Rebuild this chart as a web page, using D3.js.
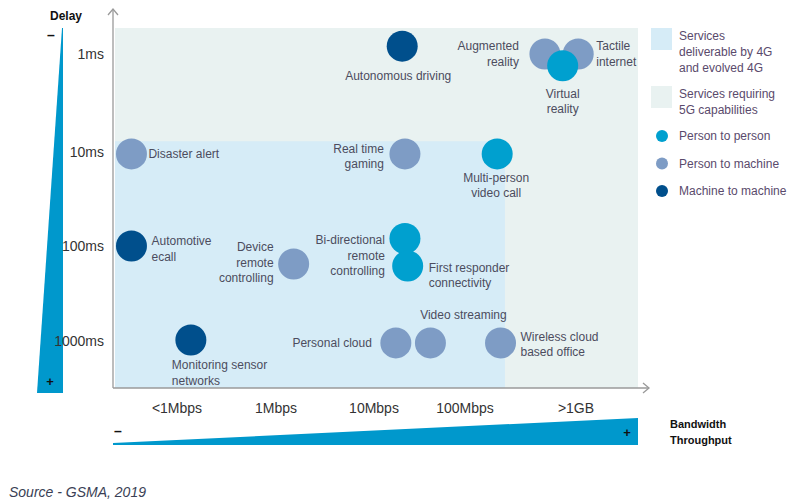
<!DOCTYPE html>
<html>
<head>
<meta charset="utf-8">
<script src="https://cdn.jsdelivr.net/npm/d3@7"></script>
<style>
  body { margin: 0; background: #fff; }
  text { font-family: "Liberation Sans", Arial, sans-serif; }
</style>
</head>
<body>
<svg id="chart"></svg>
<script>
// tick labels
const xTicks = ["<1Mbps", "1Mbps", "10Mbps", "100Mbps", ">1GB"];
const yTicks = ["1ms", "10ms", "100ms", "1000ms"];

// services: bandwidth / delay in tick units (0 = first tick)
const names = ["Disaster alert", "Automotive ecall", "Monitoring sensor networks",
  "Device remote controlling", "Personal cloud", "Video streaming", "Wireless cloud based office",
  "Real time gaming", "Bi-directional remote controlling", "First responder connectivity",
  "Multi-person video call", "Autonomous driving", "Augmented reality", "Tactile internet",
  "Virtual reality"];
const bandwidth = [-0.46, -0.46, 0.14, 1.18, 2.24, 2.62, 3.32, 2.34, 2.34, 2.37, 3.29, 2.31, 3.72, 4.02, 3.88];
const delay = [1.02, 2.0, 2.99, 2.19, 3.02, 3.02, 3.02, 1.02, 1.92, 2.21, 1.02, -0.08, 0.0, 0.0, 0.12];
const type = ["ptm", "mtm", "mtm", "ptm", "ptm", "ptm", "ptm", "ptm", "ptp", "ptp", "ptp", "mtm", "ptm", "ptm", "ptp"];

// region of 4G services (tick units): up to x, from y
const region4G = {x: 3.36, y: 0.89};

const legendNames = ["Person to person", "Person to machine", "Machine to machine"];
const legendKeys = ["ptp", "ptm", "mtm"];

const colors = {ptp: "#00a0cf", ptm: "#7e9cc5", mtm: "#004f8c"};
const textColor = "#4c4c5e";

// label layout: anchor, dx, dy of first line, split lines
const labelLayout = {
  "Disaster alert": ["start", 17, 4, ["Disaster alert"]],
  "Automotive ecall": ["start", 20, -1, ["Automotive", "ecall"]],
  "Monitoring sensor networks": ["start", -19, 29, ["Monitoring sensor", "networks"]],
  "Device remote controlling": ["end", -20, -13, ["Device", "remote", "controlling"]],
  "Personal cloud": ["end", -24, 4, ["Personal cloud"]],
  "Video streaming": ["middle", 33, -24, ["Video streaming"]],
  "Wireless cloud based office": ["start", 20, -2, ["Wireless cloud", "based office"]],
  "Real time gaming": ["end", -21, -1, ["Real time", "gaming"]],
  "Bi-directional remote controlling": ["end", -20, 6, ["Bi-directional", "remote", "controlling"]],
  "First responder connectivity": ["start", 21, 6, ["First responder", "connectivity"]],
  "Multi-person video call": ["middle", -1, 28, ["Multi-person", "video call"]],
  "Autonomous driving": ["middle", -4, 34, ["Autonomous driving"]],
  "Augmented reality": ["end", -26, -4, ["Augmented", "reality"]],
  "Tactile internet": ["start", 18, -4, ["Tactile", "internet"]],
  "Virtual reality": ["middle", 0, 32, ["Virtual", "reality"]]
};

const svgWidth = 800, svgHeight = 503;
const plot = {left: 115, right: 638, top: 28, bottom: 388};

const svg = d3.select("#chart").attr("width", svgWidth).attr("height", svgHeight);

// piecewise scales so ticks sit where the source put them
const xScale = d3.scaleLinear().domain([0, 1, 2, 3, 4]).range([177, 276, 374, 465, 576]);
const yScale = d3.scaleLinear().domain([0, 1, 2, 3]).range([54, 152, 246, 341]);

// background regions
svg.append("rect")
  .attr("x", plot.left).attr("y", plot.top)
  .attr("width", plot.right - plot.left).attr("height", plot.bottom - plot.top)
  .attr("fill", "#e9f2f1");
svg.append("rect")
  .attr("x", plot.left).attr("y", yScale(region4G.y))
  .attr("width", xScale(region4G.x) - plot.left).attr("height", plot.bottom - yScale(region4G.y))
  .attr("fill", "#d6ecf7");

// axis lines with arrows
const axisColor = "#9a9a9a";
svg.append("line").attr("x1", 113).attr("y1", plot.bottom).attr("x2", 113).attr("y2", 9)
  .attr("stroke", axisColor).attr("stroke-width", 1.3);
svg.append("path").attr("d", "M108,15 L113,9 L118,15").attr("fill", "none")
  .attr("stroke", axisColor).attr("stroke-width", 1.3);
svg.append("line").attr("x1", 113).attr("y1", plot.bottom).attr("x2", 649).attr("y2", plot.bottom)
  .attr("stroke", axisColor).attr("stroke-width", 1.3);
svg.append("path").attr("d", "M643,383 L649,388 L643,393").attr("fill", "none")
  .attr("stroke", axisColor).attr("stroke-width", 1.3);

// wedges
const wedgeBlue = "#0098cc";
svg.append("path").attr("d", "M62,28 L63,28 L63,393 L37,393 Z").attr("fill", wedgeBlue);
svg.append("path").attr("d", "M113,443 L638,418 L638,445 L113,445 Z").attr("fill", wedgeBlue);
svg.append("text").attr("x", 50).attr("y", 20).attr("font-size", 12).attr("font-weight", "bold")
  .attr("fill", "#111").text("Delay");
svg.append("text").attr("x", 47).attr("y", 40).attr("font-size", 14).attr("font-weight", "bold")
  .attr("fill", "#111").text("–");
svg.append("text").attr("x", 50).attr("y", 386).attr("font-size", 13).attr("font-weight", "bold")
  .attr("text-anchor", "middle").attr("fill", "#111").text("+");
svg.append("text").attr("x", 114).attr("y", 436).attr("font-size", 14).attr("font-weight", "bold")
  .attr("fill", "#111").text("–");
svg.append("text").attr("x", 627).attr("y", 437).attr("font-size", 13).attr("font-weight", "bold")
  .attr("text-anchor", "middle").attr("fill", "#111").text("+");
svg.append("text").attr("x", 670).attr("y", 428).attr("font-size", 11).attr("font-weight", "bold")
  .attr("fill", "#111").text("Bandwidth");
svg.append("text").attr("x", 670).attr("y", 444).attr("font-size", 11).attr("font-weight", "bold")
  .attr("fill", "#111").text("Throughput");

// tick labels (drawn over the wedge)
svg.selectAll(".xt").data(xTicks).enter().append("text")
  .attr("x", (d, i) => xScale(i)).attr("y", 413)
  .attr("text-anchor", "middle").attr("font-size", 14).attr("fill", "#333")
  .text(d => d);
svg.selectAll(".yt").data(yTicks).enter().append("text")
  .attr("x", 104).attr("y", (d, i) => yScale(i) + 5)
  .attr("text-anchor", "end").attr("font-size", 14).attr("fill", "#333")
  .text(d => d);

// bubbles
const services = names.map((n, i) => ({name: n, x: bandwidth[i], y: delay[i], type: type[i]}));
svg.selectAll(".bubble").data(services).enter().append("circle")
  .attr("cx", d => xScale(d.x)).attr("cy", d => yScale(d.y)).attr("r", 15.5)
  .attr("fill", d => colors[d.type]);

// labels
services.forEach(d => {
  const [anchor, dx, dy, lines] = labelLayout[d.name];
  const t = svg.append("text")
    .attr("text-anchor", anchor).attr("font-size", 12).attr("fill", textColor);
  lines.forEach((line, j) => {
    t.append("tspan").attr("x", xScale(d.x) + dx).attr("y", yScale(d.y) + dy + j * 15.5).text(line);
  });
});

// legend
const legendText = "#5a4a6c";
svg.append("rect").attr("x", 651).attr("y", 28).attr("width", 21).attr("height", 22).attr("fill", "#d6ecf7");
svg.append("rect").attr("x", 651).attr("y", 86).attr("width", 21).attr("height", 22).attr("fill", "#e9f2f1");
const lt1 = svg.append("text").attr("font-size", 12).attr("fill", legendText);
["Services", "deliverable by 4G", "and evolved 4G"].forEach((s, j) =>
  lt1.append("tspan").attr("x", 679).attr("y", 40 + j * 16).text(s));
const lt2 = svg.append("text").attr("font-size", 12).attr("fill", legendText);
["Services requiring", "5G capabilities"].forEach((s, j) =>
  lt2.append("tspan").attr("x", 679).attr("y", 98 + j * 16).text(s));

const legendY = d3.scalePoint().domain(legendKeys).range([136, 191]);
svg.selectAll(".lg").data(legendKeys).enter().append("circle")
  .attr("cx", 662).attr("cy", d => legendY(d)).attr("r", 6)
  .attr("fill", d => colors[d]);
svg.selectAll(".lgt").data(legendKeys).enter().append("text")
  .attr("x", 679).attr("y", d => legendY(d) + 4).attr("font-size", 12).attr("fill", legendText)
  .text((d, i) => legendNames[i]);

// source
svg.append("text").attr("x", 9).attr("y", 497).attr("font-size", 14).attr("font-style", "italic")
  .attr("fill", "#3a3f55").text("Source - GSMA, 2019");
</script>
</body>
</html>
